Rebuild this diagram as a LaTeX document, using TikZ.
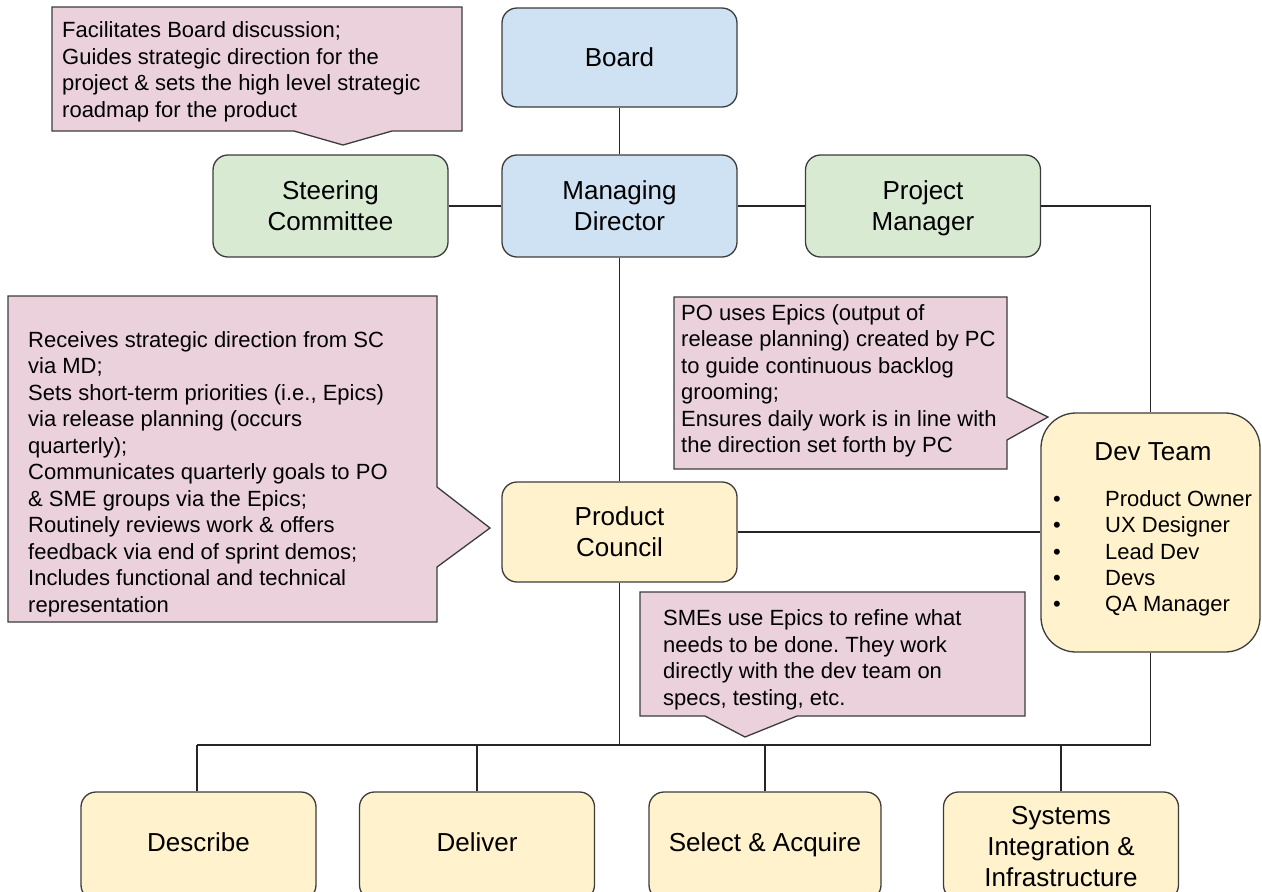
\documentclass[tikz,border=0pt]{standalone}
\usepackage{fontspec}
\setmainfont{Liberation Sans}
\frenchspacing

\definecolor{azulclaro}{RGB}{207,226,243}
\definecolor{verdeclaro}{RGB}{217,234,211}
\definecolor{amarillo}{RGB}{255,242,204}
\definecolor{rosa}{RGB}{234,209,220}
\definecolor{borde}{RGB}{60,60,60}

% puntal para centrar las lineas de las cajas
\newcommand{\puntal}{\rule[-6.2pt]{0pt}{31pt}}
% texto de una linea algo mas arriba
\newcommand{\arriba}[1]{\raisebox{4pt}[24.8pt][6.2pt]{#1}}

\tikzset{
  caja/.style={draw=borde, line width=1.3pt, rounded corners=15pt,
    minimum width=235pt, minimum height=100pt, inner sep=0pt,
    align=center, font=\fontsize{26}{31}\selectfont},
  azul/.style={caja, fill=azulclaro},
  verde/.style={caja, fill=verdeclaro},
  amar/.style={caja, fill=amarillo},
  globo/.style={fill=rosa, draw=borde, line width=1.3pt, line join=miter},
  nota/.style={anchor=west, align=left, inner sep=0pt,
    font=\fontsize{22}{26.5}\selectfont},
  linea/.style={line width=1.2pt, black!85}
}

\begin{document}
\begin{tikzpicture}[x=1pt,y=-1pt]
  \clip (0,0) rectangle (1262,892);

  % Globos de texto
  \filldraw[globo] (52,7) -- (462,7) -- (462,131) -- (392,131) -- (343,145)
    -- (294,131) -- (52,131) -- cycle;
  \node[nota] (notaSC) at (62,72) {Facilitates Board discussion;\\
    Guides strategic direction for the\\
    project \& sets the high level strategic\\
    roadmap for the product};

  \filldraw[globo] (8,296) -- (437,296) -- (437,487) -- (490,528) -- (437,567)
    -- (437,622) -- (8,622) -- cycle;
  \node[nota] (notaPC) at (28,474) {Receives strategic direction from SC\\
    via MD;\\
    Sets short-term priorities (i.e., Epics)\\
    via release planning (occurs\\
    quarterly);\\
    Communicates quarterly goals to PO\\
    \& SME groups via the Epics;\\
    Routinely reviews work \& offers\\
    feedback via end of sprint demos;\\
    Includes functional and technical\\
    representation};

  \filldraw[globo] (674,297) -- (1007,297) -- (1007,397) -- (1048,417)
    -- (1007,440) -- (1007,469) -- (674,469) -- cycle;
  \node[nota] (notaPO) at (681,381) {PO uses Epics (output of\\
    release planning) created by PC\\
    to guide continuous backlog\\
    grooming;\\
    Ensures daily work is in line with\\
    the direction set forth by PC};

  \filldraw[globo] (640,592) -- (1025,592) -- (1025,716) -- (797,716) -- (745,737)
    -- (705,716) -- (640,716) -- cycle;
  \node[nota] (notaSME) at (663,660) {SMEs use Epics to refine what\\
    needs to be done. They work\\
    directly with the dev team on\\
    specs, testing, etc.};

  % Cajas principales
  \node[azul, minimum height=99pt] (board) at (619.5,57.5) {\puntal Board};
  \node[azul, minimum height=102pt] (md) at (619.5,206) {\puntal Managing\\\puntal Director};
  \node[verde, minimum height=102pt] (sc) at (330.5,206) {\puntal Steering\\\puntal Committee};
  \node[verde, minimum height=102pt] (pm) at (923,206) {\puntal Project\\\puntal Manager};
  \node[amar] (pc) at (619.5,532) {\puntal Product\\\puntal Council};

  % Equipo de desarrollo
  \node[amar, rounded corners=35pt, minimum width=219pt, minimum height=239pt]
    (dev) at (1150.5,532.5) {};
  \node[font=\fontsize{26}{31}\selectfont, inner sep=0pt] (devtit) at (1153,451) {\puntal Dev Team};
  \node[nota, font=\fontsize{22}{26.4}\selectfont] (devlista) at (1053,553.5)
    {\makebox[52pt][l]{\textbullet}Product Owner\\
     \makebox[52pt][l]{\textbullet}UX Designer\\
     \makebox[52pt][l]{\textbullet}Lead Dev\\
     \makebox[52pt][l]{\textbullet}Devs\\
     \makebox[52pt][l]{\textbullet}QA Manager};

  % Grupos de abajo
  \node[amar, minimum height=108pt] (describe) at (198.5,846) {\arriba{Describe}};
  \node[amar, minimum height=108pt] (deliver) at (477,846) {\arriba{Deliver}};
  \node[amar, minimum height=108pt, minimum width=232pt] (select) at (765,846) {\arriba{Select \& Acquire}};
  \node[amar, minimum height=108pt] (systems) at (1061,846) {\puntal Systems\\\puntal Integration \&\\\puntal Infrastructure};

  % Conectores
  \coordinate (busL) at (197,745);
  \draw[linea] (board) -- (md);
  \draw[linea] (sc) -- (md);
  \draw[linea] (md) -- (pm);
  \draw[linea] (pm.east) -| (dev.north);
  \draw[linea] (md) -- (pc);
  \draw[linea] (pc.east) -- (pc.east -| dev.west);
  \draw[linea] (pc.south) -- (pc.south |- busL);
  \draw[linea] (dev.south) -- (dev.south |- busL) -- (busL);
  \draw[linea] (describe.north -| busL) -- (busL);
  \draw[linea] (deliver.north) -- (deliver.north |- busL);
  \draw[linea] (select.north) -- (select.north |- busL);
  \draw[linea] (systems.north) -- (systems.north |- busL);
\end{tikzpicture}
\end{document}
